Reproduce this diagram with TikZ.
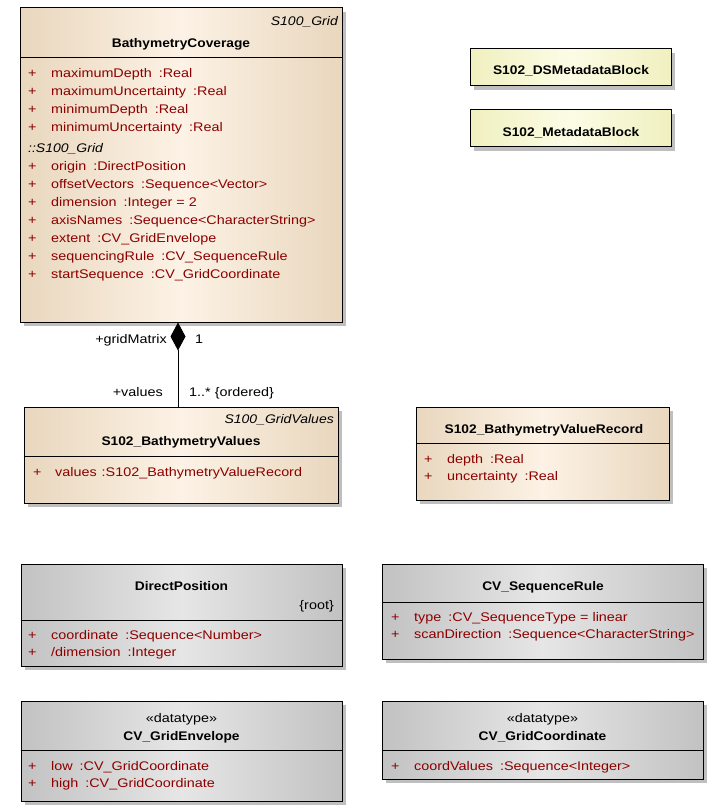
\documentclass[tikz,border=0pt]{standalone}
\usepackage{fontspec}
\setmainfont{Liberation Sans}[
    UprightFeatures={FakeStretch=1.15},
    BoldFeatures={FakeStretch=1.1},
    ItalicFeatures={FakeStretch=1.12}]
\usetikzlibrary{
    arrows.meta,
    shadows
}
\definecolor{tanedge}{RGB}{233,215,190}
\definecolor{tanmid}{RGB}{252,242,229}
\definecolor{grayedge}{RGB}{194,194,194}
\definecolor{graymid}{RGB}{230,230,230}
\definecolor{yeledge}{RGB}{240,240,192}
\definecolor{yelmid}{RGB}{252,252,230}
\definecolor{attrred}{RGB}{140,0,0}
\newcommand{\umlfont}{\fontsize{12.5}{15}\selectfont}
\newcommand{\attr}[2]{\makebox[23pt][l]{+}#1\hspace{7pt}:#2}

\begin{document}
\begin{tikzpicture}[x=1pt, y=-1pt,
        classbox/.style={rectangle, draw, line width=1pt, inner sep=0pt,
            drop shadow={shadow xshift=4pt, shadow yshift=-4pt, fill=black!25, opacity=1}},
        tanbox/.style={classbox, left color=tanedge, right color=tanedge, middle color=tanmid},
        graybox/.style={classbox, left color=grayedge, right color=grayedge, middle color=graymid},
        yelbox/.style={classbox, left color=yeledge, right color=yeledge, middle color=yelmid},
        title/.style={anchor=base, inner sep=0pt, font=\umlfont\bfseries},
        stereo/.style={anchor=base, inner sep=0pt, font=\umlfont},
        tagged/.style={anchor=base east, inner sep=0pt, font=\umlfont\itshape},
        attrline/.style={anchor=base west, inner sep=0pt, font=\umlfont, text=attrred},
        endlabel/.style={inner sep=0pt, font=\umlfont},
        sep/.style={line width=1pt}
    ]
    \path[fill=white] (0,0) rectangle (721,810);
    \useasboundingbox (0,0) rectangle (721,810);

    % class boxes
    \node[tanbox, minimum width=322pt, minimum height=314pt] (cov) at (181,165) {};
    \node[tanbox, minimum width=314pt, minimum height=96pt] (vals) at (181,455) {};
    \node[yelbox, minimum width=201pt, minimum height=37pt] (dsmeta) at (570.5,67.5) {};
    \node[yelbox, minimum width=201pt, minimum height=37pt] (meta) at (570.5,128.5) {};
    \node[tanbox, minimum width=253pt, minimum height=93pt] (rec) at (542.5,453.5) {};
    \node[graybox, minimum width=321pt, minimum height=102pt] (dirpos) at (181.5,615) {};
    \node[graybox, minimum width=321pt, minimum height=95pt] (seqrule) at (542.5,611.5) {};
    \node[graybox, minimum width=321pt, minimum height=100pt] (env) at (181.5,751) {};
    \node[graybox, minimum width=321pt, minimum height=78pt] (gcoord) at (542.5,740) {};

    % compartment lines
    \draw[sep] (cov.west |- 0,58) -- (cov.east |- 0,58);
    \draw[sep] (vals.west |- 0,456) -- (vals.east |- 0,456);
    \draw[sep] (rec.west |- 0,443) -- (rec.east |- 0,443);
    \draw[sep] (dirpos.west |- 0,620) -- (dirpos.east |- 0,620);
    \draw[sep] (seqrule.west |- 0,602) -- (seqrule.east |- 0,602);
    \draw[sep] (env.west |- 0,750) -- (env.east |- 0,750);
    \draw[sep] (gcoord.west |- 0,750) -- (gcoord.east |- 0,750);

    % BathymetryCoverage
    \node[tagged] (covtag) at (338,26) {S100\_Grid};
    \node[title] (covname) at (181,47.7) {BathymetryCoverage};
    \foreach \n/\t [count=\i] in {maximumDepth/Real, maximumUncertainty/Real,
        minimumDepth/Real, minimumUncertainty/Real}
        \node[attrline] (cova\i) at (28,59.6+17.9*\i) {\attr{\n}{\t}};
    \node[anchor=base west, inner sep=0pt, font=\umlfont\itshape] (covinh) at (28,152.7) {::S100\_Grid};
    \foreach \n/\t [count=\i] in {origin/DirectPosition, offsetVectors/Sequence<Vector>,
        dimension/{Integer = 2}, axisNames/Sequence<CharacterString>,
        extent/CV\_GridEnvelope, sequencingRule/CV\_SequenceRule,
        startSequence/CV\_GridCoordinate}
        \node[attrline] (covb\i) at (28,152.8+17.9*\i) {\attr{\n}{\t}};

    % S102_BathymetryValues
    \node[tagged] (valstag) at (334,423.3) {S100\_GridValues};
    \node[title] (valsname) at (181,445) {S102\_BathymetryValues};
    \node[attrline] (valsa) at (33,476) {\makebox[22pt][l]{+}values\hspace{5pt}:S102\_BathymetryValueRecord};

    % metadata blocks
    \node[title] (dsmetaname) at (571,75) {S102\_DSMetadataBlock};
    \node[title] (metaname) at (571,136.7) {S102\_MetadataBlock};

    % S102_BathymetryValueRecord
    \node[title] (recname) at (544,433.3) {S102\_BathymetryValueRecord};
    \foreach \n/\t [count=\i] in {depth/Real, uncertainty/Real}
        \node[attrline] (reca\i) at (424,446.5+16.8*\i) {\attr{\n}{\t}};

    % DirectPosition
    \node[title] (dirposname) at (181.5,590.7) {DirectPosition};
    \node[anchor=base east, inner sep=0pt, font=\umlfont] (dirposroot) at (334,609) {\{root\}};
    \foreach \n/\t [count=\i] in {coordinate/Sequence<Number>, {/dimension}/Integer}
        \node[attrline] (dirposa\i) at (28,622+17*\i) {\attr{\n}{\t}};

    % CV_SequenceRule
    \node[title] (seqrulename) at (543,590.7) {CV\_SequenceRule};
    \foreach \n/\t [count=\i] in {type/{CV\_SequenceType = linear}, scanDirection/Sequence<CharacterString>}
        \node[attrline] (seqrulea\i) at (391,603.5+17.6*\i) {\attr{\n}{\t}};

    % CV_GridEnvelope
    \node[stereo] (envstereo) at (181.5,722.7) {«datatype»};
    \node[title] (envname) at (181.5,740) {CV\_GridEnvelope};
    \foreach \n/\t [count=\i] in {low/CV\_GridCoordinate, high/CV\_GridCoordinate}
        \node[attrline] (enva\i) at (28,754.1+16.6*\i) {\attr{\n}{\t}};

    % CV_GridCoordinate
    \node[stereo] (gcoordstereo) at (542.5,722.7) {«datatype»};
    \node[title] (gcoordname) at (542.5,740) {CV\_GridCoordinate};
    \node[attrline] (gcoorda) at (391,770.7) {\attr{coordValues}{Sequence<Integer>}};

    % composition
    \draw[line width=0.9pt, {Diamond[length=28pt, width=15pt]}-]
        ([xshift=-3pt]cov.south) -- ([xshift=-3pt]vals.north);
    \node[endlabel, anchor=base east] (gridrole) at (167,343) {+gridMatrix};
    \node[endlabel, anchor=base west] (gridmult) at (195,343) {1};
    \node[endlabel, anchor=base east] (valsrole) at (163,396) {+values};
    \node[endlabel, anchor=base west] (valsmult) at (189,396) {1..* \{ordered\}};
\end{tikzpicture}
\end{document}
